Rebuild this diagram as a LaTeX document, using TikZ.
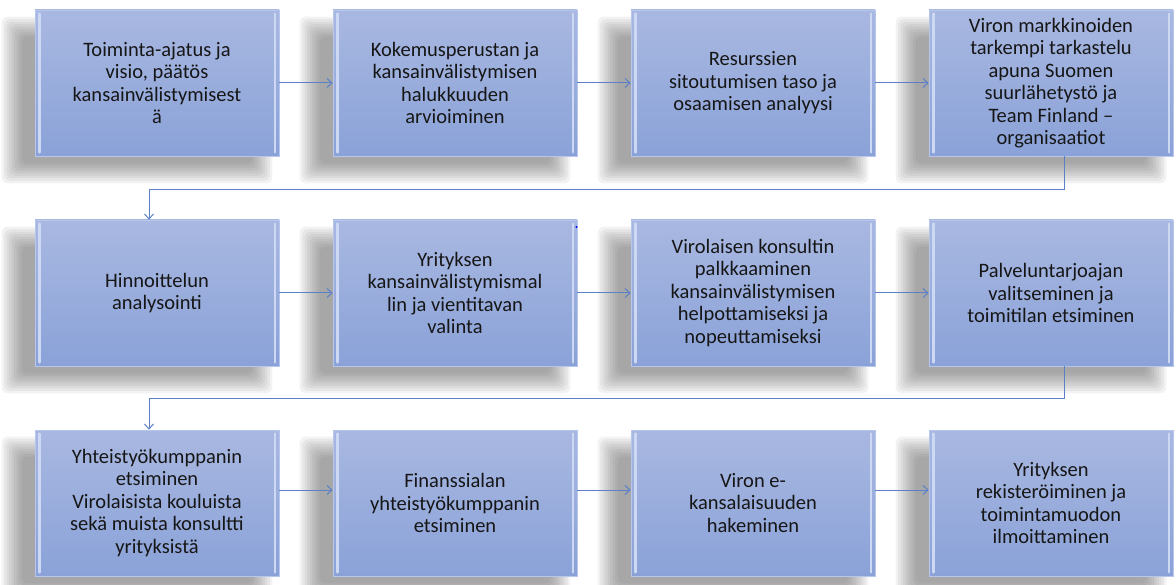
\documentclass[tikz,border=0pt]{standalone}
\usepackage{fontspec}
\setmainfont{Carlito}
\usetikzlibrary{arrows.meta,backgrounds}
\definecolor{boxtop}{HTML}{A9B8E1}
\definecolor{boxbot}{HTML}{8AA2D8}
\definecolor{boxedge}{HTML}{B7C6EC}
\definecolor{bevelc}{HTML}{CDD8F3}
\definecolor{connc}{HTML}{5B80C8}
\definecolor{txt}{HTML}{161616}
\tikzset{
  stepbox/.style={rectangle, minimum width=244pt, minimum height=146pt, inner sep=0pt,
    align=center, top color=boxtop, bottom color=boxbot, draw=boxedge, line width=0.6pt,
    text=txt, font=\fontsize{20.5}{22.5}\selectfont},
  bevel/.style={draw=bevelc, line width=2.6pt, line cap=round},
  conn/.style={draw=connc, line width=1pt, -{Straight Barb[length=5pt,width=9pt,line width=1pt]}},
  shadowlayer/.style={fill=black!75, fill opacity=0.065, rounded corners=6pt},
}
\begin{document}
\begin{tikzpicture}[x=1pt,y=-1pt]
\useasboundingbox (0,0) rectangle (1176,585);
% row 1
\node[stepbox] (b1) at (157,83) {Toiminta-ajatus ja\\visio, päätös\\kansainvälistymisest\\ä};
\node[stepbox] (b2) at (455,83) {Kokemusperustan ja\\kansainvälistymisen\\halukkuuden\\arvioiminen};
\node[stepbox] (b3) at (753,83) {Resurssien\\sitoutumisen taso ja\\osaamisen analyysi};
\node[stepbox] (b4) at (1051,83) {Viron markkinoiden\\tarkempi tarkastelu\\apuna Suomen\\suurlähetystö ja\\Team Finland --\\organisaatiot};
% row 2
\node[stepbox] (b5) at (157,293) {Hinnoittelun\\analysointi};
\node[stepbox] (b6) at (455,293) {Yrityksen\\kansainvälistymismal\\lin ja vientitavan\\valinta};
\node[stepbox] (b7) at (753,293) {Virolaisen konsultin\\palkkaaminen\\kansainvälistymisen\\helpottamiseksi ja\\nopeuttamiseksi};
\node[stepbox] (b8) at (1051,293) {Palveluntarjoajan\\valitseminen ja\\toimitilan etsiminen};
% row 3
\node[stepbox] (b9) at (157,503) {Yhteistyökumppanin\\etsiminen\\Virolaisista kouluista\\sekä muista konsultti\\yrityksistä};
\node[stepbox] (b10) at (455,503) {Finanssialan\\yhteistyökumppanin\\etsiminen};
\node[stepbox] (b11) at (753,503) {Viron e-\\kansalaisuuden\\hakeminen};
\node[stepbox] (b12) at (1051,503) {Yrityksen\\rekisteröiminen ja\\toimintamuodon\\ilmoittaminen};
% soft shadows
\begin{pgfonlayer}{background}
\foreach \n in {b1,b2,b3,b4,b5,b6,b7,b8,b9,b10,b11,b12}{
  \foreach \d in {-9,-6.5,-4,-1.5,1,3.5,6,8.5,11}{
    \fill[shadowlayer] ([shift={(-22-\d,18-\d)}]\n.north west) rectangle ([shift={(-18+\d,16+\d)}]\n.south east);
  }
}
\end{pgfonlayer}
% bevels
\foreach \n in {b1,b2,b3,b4,b5,b6,b7,b8,b9,b10,b11,b12}{
  \draw[bevel] ([xshift=4.5pt,yshift=-4pt]\n.north west) -- ([xshift=4.5pt,yshift=4pt]\n.south west);
  \draw[bevel] ([xshift=-4.5pt,yshift=-4pt]\n.north east) -- ([xshift=-4.5pt,yshift=4pt]\n.south east);
}
% connectors
\draw[conn] (b1.east) -- (b2.west);
\draw[conn] (b2.east) -- (b3.west);
\draw[conn] (b3.east) -- (b4.west);
\draw[conn] (b5.east) -- (b6.west);
\draw[conn] (b6.east) -- (b7.west);
\draw[conn] (b7.east) -- (b8.west);
\draw[conn] ([yshift=13pt]b9.east) -- ([yshift=13pt]b10.west);
\draw[conn] ([yshift=13pt]b10.east) -- ([yshift=13pt]b11.west);
\draw[conn] ([yshift=13pt]b11.east) -- ([yshift=13pt]b12.west);
\draw[conn] ([xshift=13pt]b4.south) -- ++(0,33) -| ([xshift=-8pt]b5.north);
\draw[conn] ([xshift=13pt]b8.south) -- ++(0,32) -| ([xshift=-8pt]b9.north);
\fill[blue] (576.5,227) circle (1.1pt);
\end{tikzpicture}
\end{document}
